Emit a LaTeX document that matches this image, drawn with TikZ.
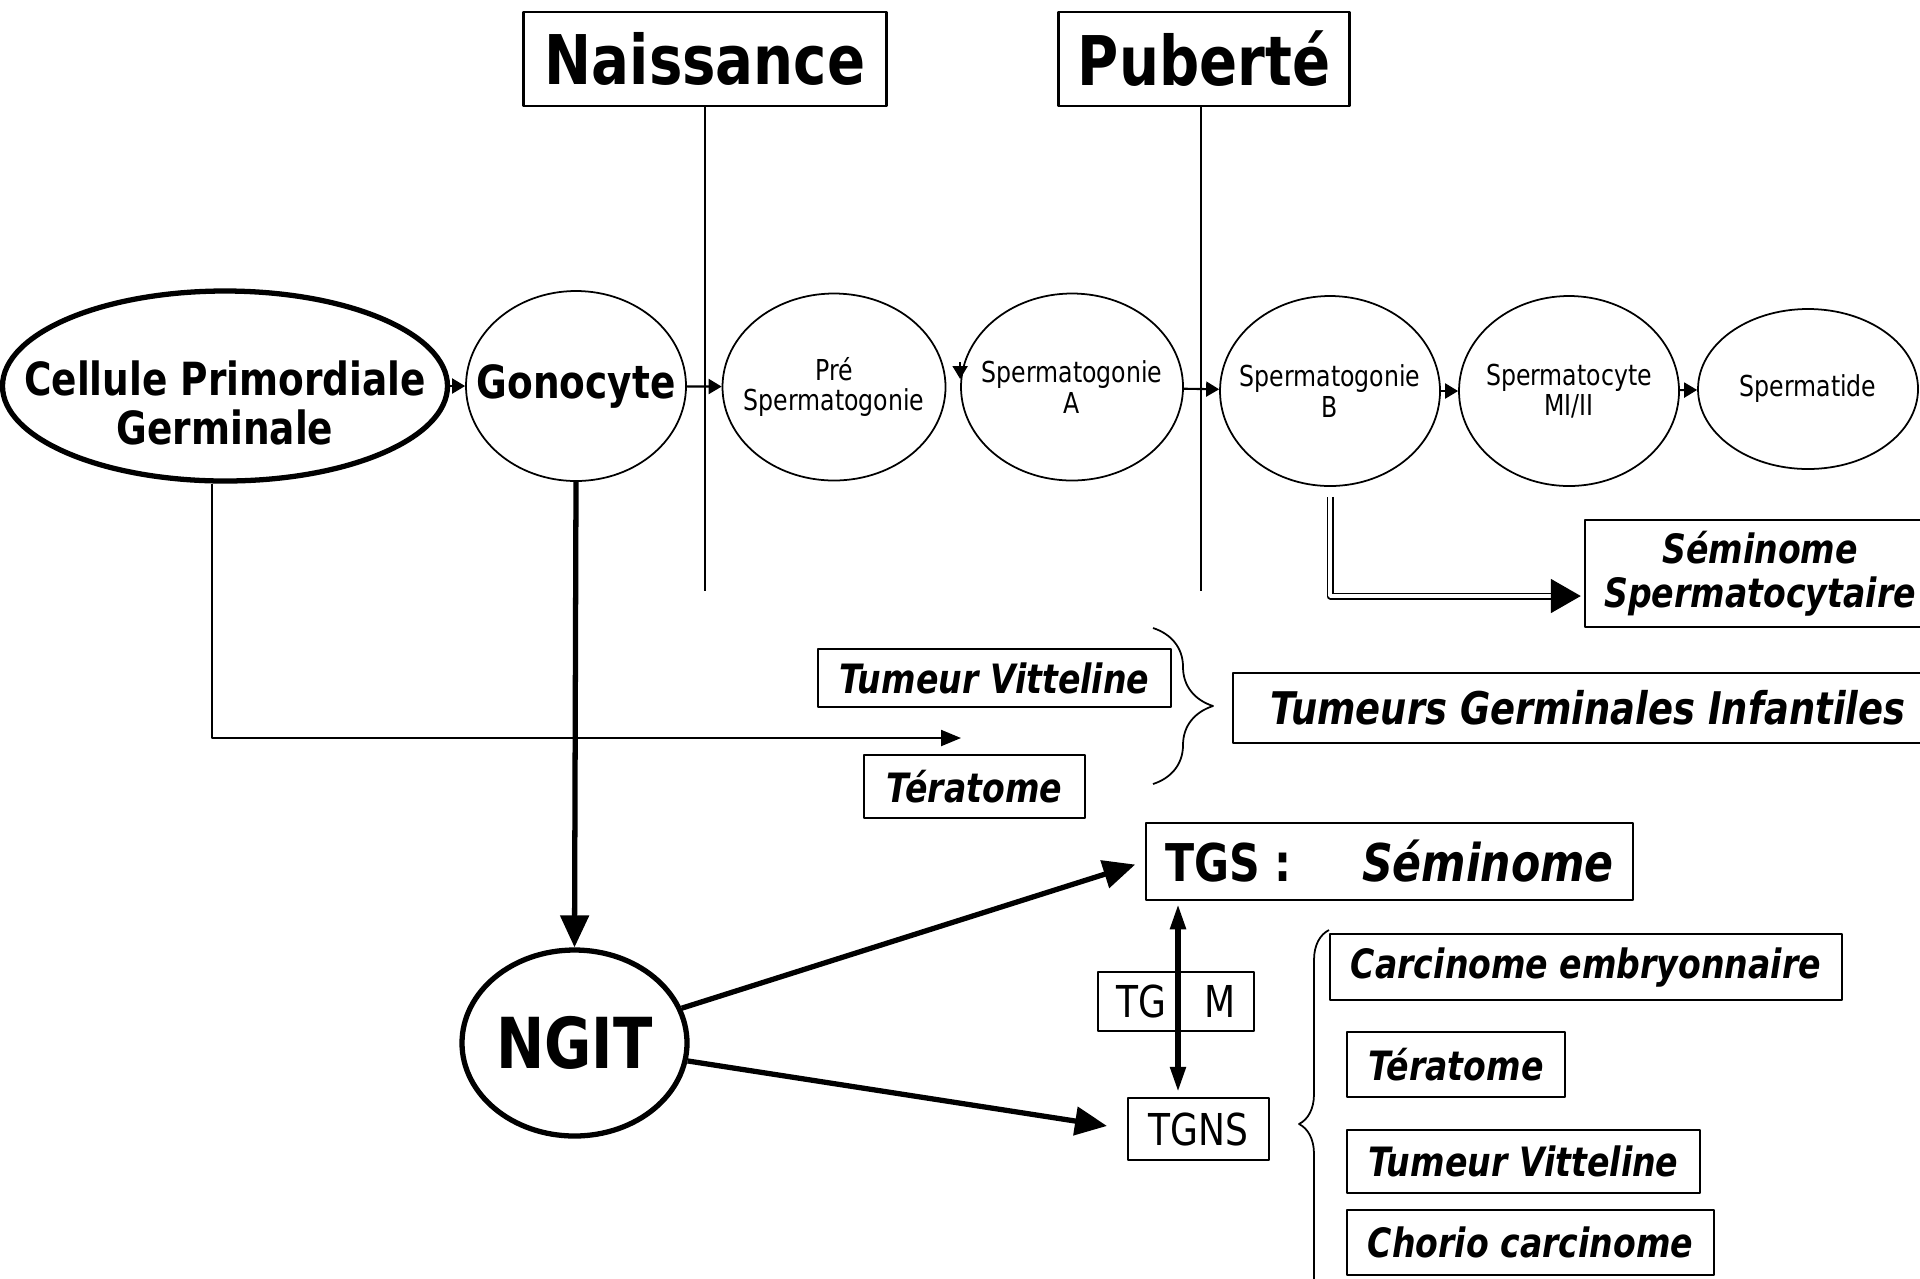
\documentclass[tikz,border=0pt]{standalone}
\usepackage{fontspec}
\setmainfont{DejaVu Sans}[FakeStretch=0.82]
\usetikzlibrary{shapes.geometric,arrows.meta,decorations.pathreplacing,calc}
\tikzset{
	cellfont/.style={font=\fontsize{8.2}{8.6}\selectfont,align=center,inner sep=0pt},
	bigfont/.style={font=\fontsize{13}{14}\selectfont\bfseries,align=center,inner sep=0pt},
	cell/.style={draw,ellipse,line width=0.5pt,inner sep=0pt,minimum width=2.2cm,minimum height=1.9cm,label={[cellfont]center:#1}},
	bigcell/.style={draw,ellipse,line width=1.5pt,inner sep=0pt},
	stagebox/.style={draw,line width=0.7pt,inner sep=0pt,minimum height=0.94cm,font=\fontsize{19.5}{21}\selectfont\bfseries},
	tumbox/.style={draw,line width=0.7pt,inner sep=0pt,align=center,font=\fontsize{11.5}{12.5}\selectfont\bfseries\itshape},
	plainbox/.style={draw,line width=0.7pt,inner sep=0pt,font=\fontsize{12.5}{14}\selectfont},
	chain/.style={-{Triangle[length=0.13cm,width=0.15cm]},line width=0.6pt},
	fat/.style={-{Triangle[length=0.32cm,width=0.28cm]},line width=1.5pt},
}
\begin{document}
\begin{tikzpicture}[x=1cm,y=-1cm,line join=round]
	\useasboundingbox (0,0) rectangle (19.2,12.78);
	% periodes
	\node[stagebox,minimum width=3.63cm] (nai) at (7.05,0.59) {Naissance};
	\node[stagebox,minimum width=2.91cm] (pub) at (12.04,0.59) {Puberté};
	\coordinate (stop) at (0,5.91);
	\draw[line width=0.7pt] (nai.south) -- (nai.south |- stop);
	\draw[line width=0.7pt] ([xshift=-0.03cm]pub.south) -- ([xshift=-0.03cm]pub.south |- stop);
	% lignee germinale
	\node[bigcell,label={[bigfont,yshift=-0.17cm]center:Cellule Primordiale\\Germinale},minimum width=4.45cm,minimum height=1.9cm] (cpg) at (2.25,3.86) {};
	\node[cell={},label={[bigfont]center:Gonocyte}] (gono) at (5.76,3.86) {};
	\node[cell={Pré\\Spermatogonie},minimum width=2.23cm,minimum height=1.87cm] (pre) at (8.34,3.87) {};
	\node[cell={Spermatogonie\\A},minimum width=2.22cm,minimum height=1.87cm] (spA) at (10.72,3.87) {};
	\node[cell={Spermatogonie\\B}] (spB) at (13.30,3.91) {};
	\node[cell={Spermatocyte\\MI/II}] (spM) at (15.69,3.91) {};
	\node[cell=Spermatide,minimum height=1.6cm] (spt) at (18.08,3.89) {};
	\draw[chain] (cpg) -- (gono);
	\draw[chain] (gono) -- (pre);
	\draw[chain] ([yshift=0.25cm]spA.west) -- ([yshift=0.08cm]spA.west);
	\draw[chain] (spA) -- (spB);
	\draw[chain] (spB) -- (spM);
	\draw[chain] (spM) -- (spt);
	% seminome spermatocytaire
	\node[tumbox,minimum width=3.5cm,minimum height=1.07cm] (semsp) at (17.60,5.735) {Séminome\\Spermatocytaire};
	\coordinate (dblend) at (15.52,5.96);
	\draw[double,double distance=0.035cm,line width=0.5pt] ([yshift=-0.1cm]spB.south) |- (dblend);
	\draw[-{Triangle[length=0.3cm,width=0.34cm]},line width=0.5pt,shorten >=0.03cm] (dblend) -- (semsp.west |- dblend);
	% tumeurs infantiles
	\node[tumbox,minimum width=3.53cm,minimum height=0.58cm] (tv1) at (9.945,6.78) {Tumeur Vitteline};
	\node[tumbox,minimum width=2.21cm,minimum height=0.63cm] (ter1) at (9.745,7.865) {Tératome};
	\node[tumbox,minimum width=7.1cm,minimum height=0.70cm,font=\fontsize{12.8}{14}\selectfont\bfseries\itshape] (tgi) at (15.88,7.08) {Tumeurs Germinales Infantiles};
	\draw[decorate,decoration={brace,amplitude=0.6cm},line width=0.5pt] (11.53,6.28) -- (11.53,7.84);
	\coordinate (tgiin) at (9.61,7.38);
	\draw[-{Triangle[length=0.2cm,width=0.16cm]},line width=0.6pt] ($(cpg.south)+(-0.13,0)$) |- (tgiin);
	% NGIT
	\node[bigcell,label={[font=\fontsize{20}{22}\selectfont\bfseries,inner sep=0pt]center:NGIT},minimum width=2.25cm,minimum height=1.86cm] (ngit) at (5.745,10.43) {};
	\draw[fat] (gono.south) -- (ngit.north);
	\node[draw,line width=0.7pt,inner sep=0pt,minimum width=4.87cm,minimum height=0.77cm,font=\fontsize{14.8}{16}\selectfont\bfseries] (tgs) at (13.895,8.615) {TGS :\hspace{0.7cm}\textit{Séminome}};
	\node[plainbox,minimum width=1.41cm,minimum height=0.62cm] (tgns) at (11.985,11.29) {TGNS};
	\node[plainbox,minimum width=1.56cm,minimum height=0.59cm] (tgm) at (11.76,10.015) {TG\hspace{0.38cm}M};
	\draw[fat,shorten >=0.1cm] (ngit.18) -- (tgs.west);
	\draw[fat,shorten >=0.2cm] (ngit.-9) -- (tgns.west);
	\draw[{Triangle[length=0.25cm,width=0.15cm]}-{Triangle[length=0.25cm,width=0.15cm]},line width=1.5pt,shorten <=0.03cm,shorten >=0.05cm] ([xshift=0.02cm]tgm.center |- tgs.south) -- ([xshift=0.02cm]tgm.center |- tgns.north);
	% TGNS
	\draw[decorate,decoration={brace,amplitude=0.3cm},line width=0.5pt] (13.29,13.18) -- (13.29,9.30);
	\node[tumbox,minimum width=5.12cm,minimum height=0.66cm] (ce) at (15.86,9.67) {Carcinome embryonnaire};
	\node[tumbox,minimum width=2.18cm,minimum height=0.65cm] (ter2) at (14.56,10.645) {Tératome};
	\node[tumbox,minimum width=3.53cm,minimum height=0.63cm] (tv2) at (15.235,11.615) {Tumeur Vitteline};
	\node[tumbox,minimum width=3.67cm,minimum height=0.65cm] (cc) at (15.305,12.425) {Chorio carcinome};
\end{tikzpicture}
\end{document}
